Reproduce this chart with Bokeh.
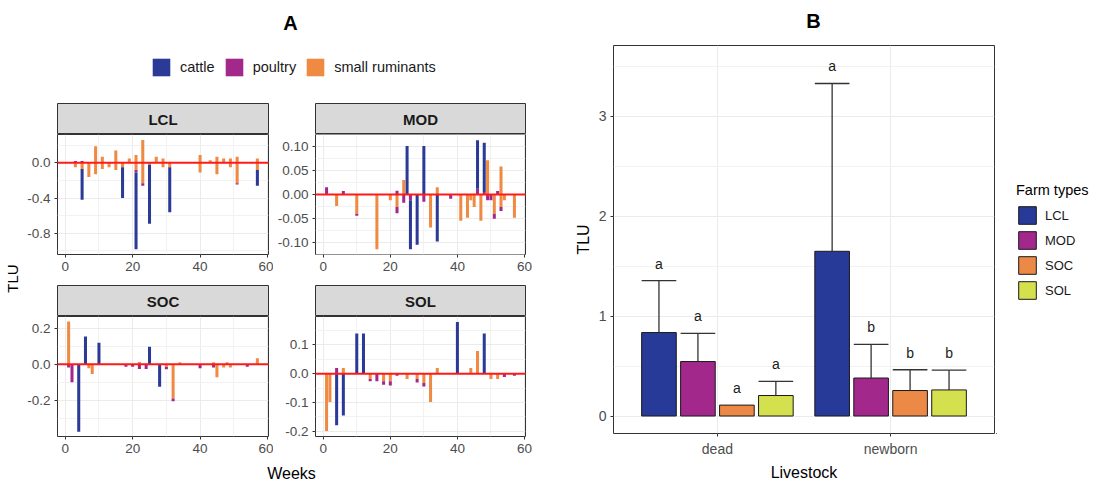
import math
from bokeh.plotting import figure
from bokeh.models import (Range1d, FixedTicker, Span, Legend, LegendItem,
                          ColumnDataSource)
from bokeh.layouts import row, column
from bokeh.embed import file_html
from bokeh.resources import INLINE
from bokeh.core.properties import value

FONT = "Liberation Sans"

# ---------------- Panel A data ----------------
CAT, POU, SR = "cattle", "poultry", "small ruminants"
species = [CAT, POU, SR]
species_colors = ["#2B3A96", "#A2288B", "#EF8A43"]

week_ticks = [0, 20, 40, 60]
week_minor = [10, 30, 50]

LCL_week = [3, 3, 5, 5, 5, 7, 9, 9, 11, 11, 13, 15, 15, 17, 17, 19,
            21, 21, 21, 21, 23, 23, 23, 25, 25, 27, 29, 29, 31, 31,
            40, 40, 43, 45, 45, 47, 49, 49, 51, 51, 51, 57, 57, 57]
LCL_species = [POU, SR, POU, SR, CAT, SR, SR, SR, SR, SR, SR, SR, SR, SR, CAT, SR,
               SR, SR, POU, CAT, SR, SR, POU, SR, CAT, SR, SR, SR, SR, CAT,
               SR, SR, SR, SR, SR, SR, SR, SR, SR, SR, POU, SR, SR, CAT]
LCL_tlu = [0.02, -0.05, 0.02, -0.07, -0.35, -0.16, 0.19, -0.13, 0.07, -0.07, -0.05, 0.14, -0.08, -0.05, -0.35, 0.05,
           0.09, -0.08, -0.03, -0.87, 0.26, -0.23, -0.03, -0.02, -0.67, 0.07, 0.05, -0.05, -0.05, -0.51,
           0.09, -0.11, 0.03, 0.07, -0.13, 0.05, 0.05, -0.05, 0.07, -0.23, -0.015, 0.05, -0.08, -0.18]

MOD_week = [1, 4, 6, 10, 10, 16, 20, 22, 22, 22, 24, 24, 25, 26, 26, 28, 30, 30, 32, 34, 34,
            38, 41, 43, 44, 45, 46, 46, 47, 48, 48, 49, 49, 50, 51, 51, 52, 53, 53, 53, 54, 57]
MOD_species = [POU, SR, POU, SR, POU, SR, SR, POU, SR, POU, SR, POU, CAT, POU, CAT, CAT, CAT, POU, SR, SR, CAT,
               POU, SR, SR, SR, SR, POU, CAT, SR, POU, CAT, SR, POU, POU, SR, POU, POU, SR, SR, POU, SR, SR]
MOD_tlu = [0.015, -0.024, 0.007, -0.040, -0.004, -0.113, -0.012, 0.008, -0.026, -0.013, 0.030, -0.017,
           0.100, -0.012, -0.101, -0.104, 0.100, -0.015, -0.068, 0.015, -0.097,
           -0.009, -0.054, -0.048, -0.012, -0.026, 0.012, 0.100, -0.054, 0.005, 0.102,
           0.071, -0.012, -0.012, -0.040, -0.010, 0.007, 0.058, -0.026, -0.008, -0.012, -0.048]

SOC_week = [1, 1, 2, 4, 6, 7, 8, 10, 18, 20, 22, 22, 24, 25, 28, 30, 30, 32, 32, 34,
            40, 44, 44, 45, 47, 48, 49, 54, 57]
SOC_species = [SR, POU, POU, CAT, CAT, SR, SR, CAT, POU, POU, SR, POU, POU, CAT, CAT, SR, POU, SR, POU, SR,
               POU, SR, POU, SR, SR, SR, SR, POU, SR]
SOC_tlu = [0.237, -0.017, -0.100, -0.374, 0.154, -0.022, -0.054, 0.120, -0.013, -0.013, 0.013, -0.026,
           -0.026, 0.098, -0.124, -0.013, -0.015, -0.189, -0.015, 0.011,
           -0.022, 0.011, -0.017, -0.072, -0.017, 0.011, -0.017, -0.013, 0.033]

SOL_week = [1, 2, 4, 4, 6, 6, 10, 12, 14, 14, 16, 18, 18, 20, 20, 22, 25, 28, 28, 30, 30,
            32, 34, 40, 44, 46, 48, 50, 52, 54, 57]
SOL_species = [SR, SR, POU, CAT, SR, CAT, CAT, CAT, SR, POU, POU, SR, POU, SR, POU, POU, SR, SR, POU, SR, POU,
               SR, SR, CAT, SR, SR, CAT, SR, SR, POU, POU]
SOL_tlu = [-0.199, -0.098, 0.020, -0.179, 0.020, -0.145, 0.140, 0.140, -0.018, -0.008, -0.026,
           -0.026, -0.012, -0.026, -0.015, -0.007, -0.018, -0.018, -0.012, -0.032, -0.012,
           -0.098, 0.020, 0.180, 0.020, 0.079, 0.140, -0.018, -0.018, -0.011, -0.007]

LCL_yticks = [-0.8, -0.4, 0.0]
LCL_ylabels = ["-0.8", "-0.4", "0.0"]
MOD_yticks = [-0.10, -0.05, 0.0, 0.05, 0.10]
MOD_ylabels = ["-0.10", "-0.05", "0.00", "0.05", "0.10"]
SOC_yticks = [-0.2, 0.0, 0.2]
SOC_ylabels = ["-0.2", "0.0", "0.2"]
SOL_yticks = [-0.2, -0.1, 0.0, 0.1]
SOL_ylabels = ["-0.2", "-0.1", "0.0", "0.1"]

# ---------------- Panel B data ----------------
livestock = ["dead", "newborn"]
farm_types = ["LCL", "MOD", "SOC", "SOL"]
farm_colors = ["#283A97", "#A3288C", "#EC8946", "#D4E04E"]
dead_mean = [0.835, 0.545, 0.109, 0.205]
dead_upper = [1.355, 0.826, 0.109, 0.347]
newborn_mean = [1.648, 0.380, 0.255, 0.261]
newborn_upper = [3.327, 0.717, 0.463, 0.459]
dead_letters = ["a", "a", "a", "a"]
newborn_letters = ["a", "b", "b", "b"]
B_yticks = [0, 1, 2, 3]
B_yminor = [0.5, 1.5, 2.5, 3.5]

GRID = "#EBEBEB"
GRID_MINOR = "#F2F2F2"
BORDER = "#333333"
TICKTXT = "#4D4D4D"


def base_fig(w, h, xr, yr, **kw):
    p = figure(width=w, height=h, x_range=xr, y_range=yr, output_backend="svg",
               toolbar_location=None, tools="", background_fill_color="white",
               border_fill_color="white", **kw)
    return p


def blank_fig(w, h):
    p = base_fig(w, h, Range1d(0, w), Range1d(0, h), x_axis_type=None, y_axis_type=None,
                 min_border_left=0, min_border_right=0, min_border_top=0, min_border_bottom=0)
    p.outline_line_color = None
    p.grid.visible = False
    return p


def text_fig(w, h, texts, xs, ys, size, style="normal", angle=0.0):
    p = blank_fig(w, h)
    p.text(x=xs, y=ys, text=texts, text_align="center", text_baseline="middle",
           text_font=value(FONT), text_font_size=size, text_font_style=style,
           text_color="#000000", angle=angle)
    return p


def style_axes(p, size):
    for ax in p.axis:
        ax.axis_line_color = None
        ax.major_tick_line_color = BORDER
        ax.major_tick_out = 3
        ax.major_tick_in = 0
        ax.minor_tick_line_color = None
        ax.major_label_text_font = FONT
        ax.major_label_text_font_size = size
        ax.major_label_text_color = TICKTXT
        ax.major_label_standoff = 3


def stack_source(weeks, sp, vals):
    order = {SR: 0, POU: 1, CAT: 2}
    idx = sorted(range(len(weeks)), key=lambda i: order[sp[i]])
    pos, neg = {}, {}
    xs, bots, tops, cols = [], [], [], []
    for i in idx:
        w, v = weeks[i], vals[i]
        acc = pos if v >= 0 else neg
        b = acc.get(w, 0.0)
        acc[w] = b + v
        xs.append(w)
        bots.append(b)
        tops.append(b + v)
        cols.append(species_colors[species.index(sp[i])])
    return ColumnDataSource(dict(x=xs, bottom=bots, top=tops, color=cols))


def strip_fig(label, left, fw, right, top):
    s = base_fig(left + fw + right, 31 + top, Range1d(0, 1), Range1d(0, 1),
                 x_axis_type=None, y_axis_type=None,
                 min_border_left=left, min_border_right=right,
                 min_border_top=top, min_border_bottom=0)
    s.grid.visible = False
    s.background_fill_color = "#D9D9D9"
    s.outline_line_color = BORDER
    s.outline_line_width = 1
    s.text(x=[0.5], y=[0.5], text=[label], text_align="center", text_baseline="middle",
           text_font=value(FONT), text_font_size="15px", text_font_style="bold",
           text_color="#1A1A1A")
    return s


def facet_fig(weeks, sp, vals, yr, yticks, ylabels, left, fw, right, bottom):
    p = base_fig(left + fw + right, 120 + bottom, Range1d(-2.3, 60.3), Range1d(*yr),
                 min_border_left=left, min_border_right=right,
                 min_border_top=0, min_border_bottom=bottom)
    p.outline_line_color = BORDER
    p.outline_line_width = 1
    step = yticks[1] - yticks[0]
    yminor = [t + step / 2 for t in [yticks[0] - step] + yticks]
    xt = FixedTicker(ticks=week_ticks, minor_ticks=week_minor)
    yt = FixedTicker(ticks=yticks, minor_ticks=yminor)
    p.xaxis.ticker = xt
    p.yaxis.ticker = yt
    p.xgrid.ticker = xt
    p.ygrid.ticker = yt
    p.yaxis.major_label_overrides = {t: l for t, l in zip(yticks, ylabels)}
    for g in (p.xgrid, p.ygrid):
        g.grid_line_color = GRID
        g.grid_line_width = 1
        g.minor_grid_line_color = GRID_MINOR
        g.minor_grid_line_width = 1
    style_axes(p, "13.5px")
    src = stack_source(weeks, sp, vals)
    p.vbar(x="x", width=0.9, bottom="bottom", top="top", fill_color="color",
           line_color=None, source=src)
    p.add_layout(Span(location=0, dimension="width", line_color="#FF1A1A", line_width=2))
    return p


# ---------------- Panel A layout ----------------
LW_L, FW_L, RW_L = 35, 211, 5
LW_R, FW_R, RW_R = 42, 210, 45

headA = blank_fig(570, 100)
headA.text(x=[290], y=[78], text=["A"], text_align="center", text_baseline="middle",
           text_font=value(FONT), text_font_size="20px", text_font_style="bold",
           text_color="#000000")
items = []
for s, c in zip(species, species_colors):
    # legend key renderer, kept outside the visible range of this header
    r = headA.vbar(x=[-1000], top=[-1000], bottom=[-1001], width=1, fill_color=c, line_color=None)
    items.append(LegendItem(label=s, renderers=[r]))
legA = Legend(items=items, orientation="horizontal", location=(150, 22),
              glyph_width=22, glyph_height=22, label_height=22, label_standoff=8,
              spacing=8, padding=0, margin=0, border_line_color=None,
              background_fill_alpha=0, label_text_font=FONT,
              label_text_font_size="14.5px", label_text_color="#1A1A1A")
headA.add_layout(legA)

s_lcl = strip_fig("LCL", LW_L, FW_L, RW_L, 3)
s_mod = strip_fig("MOD", LW_R, FW_R, RW_R, 3)
p_lcl = facet_fig(LCL_week, LCL_species, LCL_tlu, (-1.04, 0.322), LCL_yticks, LCL_ylabels,
                  LW_L, FW_L, RW_L, 31)
p_mod = facet_fig(MOD_week, MOD_species, MOD_tlu, (-0.124, 0.124), MOD_yticks, MOD_ylabels,
                  LW_R, FW_R, RW_R, 31)
s_soc = strip_fig("SOC", LW_L, FW_L, RW_L, 0)
s_sol = strip_fig("SOL", LW_R, FW_R, RW_R, 0)
p_soc = facet_fig(SOC_week, SOC_species, SOC_tlu, (-0.40, 0.265), SOC_yticks, SOC_ylabels,
                  LW_L, FW_L, RW_L, 22)
p_sol = facet_fig(SOL_week, SOL_species, SOL_tlu, (-0.218, 0.199), SOL_yticks, SOL_ylabels,
                  LW_R, FW_R, RW_R, 22)

grid = column(row(s_lcl, s_mod), row(p_lcl, p_mod), row(s_soc, s_sol), row(p_soc, p_sol))
tluA = text_fig(22, 358, ["TLU"], [12], [180], "15px", angle=math.pi / 2)
weeksA = text_fig(570, 25, ["Weeks"], [291], [10], "16px")
colA = column(headA, row(tluA, grid), weeksA)

# ---------------- Panel B ----------------
headB = text_fig(533, 40, ["B"], [243], [20], "20px", style="bold")

pB = base_fig(426, 443, Range1d(0.4, 2.6), Range1d(-0.175, 3.707),
              min_border_left=43, min_border_right=2, min_border_top=5, min_border_bottom=46)
pB.outline_line_color = BORDER
pB.outline_line_width = 1
xtB = FixedTicker(ticks=[1, 2])
ytB = FixedTicker(ticks=B_yticks, minor_ticks=B_yminor)
pB.xaxis.ticker = xtB
pB.xgrid.ticker = xtB
pB.yaxis.ticker = ytB
pB.ygrid.ticker = ytB
pB.xaxis.major_label_overrides = {i + 1: lab for i, lab in enumerate(livestock)}
for g in (pB.xgrid, pB.ygrid):
    g.grid_line_color = GRID
    g.grid_line_width = 1
pB.ygrid.minor_grid_line_color = GRID_MINOR
style_axes(pB, "14px")
pB.xaxis.major_label_standoff = 4
pB.yaxis.axis_label = "TLU"
pB.xaxis.axis_label = "Livestock"
for ax in pB.axis:
    ax.axis_label_text_font = FONT
    ax.axis_label_text_font_size = "16px"
    ax.axis_label_text_font_style = "normal"
    ax.axis_label_text_color = "#000000"
    ax.axis_label_standoff = 4

dodge = 0.225
bar_w = 0.2
for i, ft in enumerate(farm_types):
    xs = [k + 1 + (i - 1.5) * dodge for k in range(len(livestock))]
    means = [dead_mean[i], newborn_mean[i]]
    uppers = [dead_upper[i], newborn_upper[i]]
    letters = [dead_letters[i], newborn_letters[i]]
    pB.vbar(x=xs, top=means, bottom=0, width=bar_w, fill_color=farm_colors[i],
            line_color="#1A1A1A", line_width=1)
    ex = [x for x, m, u in zip(xs, means, uppers) if u > m]
    em = [m for m, u in zip(means, uppers) if u > m]
    eu = [u for m, u in zip(means, uppers) if u > m]
    if ex:
        pB.segment(x0=ex, y0=em, x1=ex, y1=eu, line_color="#333333", line_width=1.3)
        pB.segment(x0=[x - bar_w / 2 for x in ex], y0=eu, x1=[x + bar_w / 2 for x in ex], y1=eu,
                   line_color="#333333", line_width=1.3)
    pB.text(x=xs, y=[max(m, u) + 0.17 for m, u in zip(means, uppers)], text=letters,
            text_align="center", text_baseline="middle", text_font=value(FONT),
            text_font_size="14px", text_color="#1A1A1A")

# legend panel to the right of panel B
legFig = blank_fig(107, 443)
itemsB = []
for ft, c in zip(farm_types, farm_colors):
    r = legFig.vbar(x=[-1000], top=[-1000], bottom=[-1001], width=1, fill_color=c,
                    line_color="#1A1A1A", line_width=1)
    itemsB.append(LegendItem(label=ft, renderers=[r]))
legB = Legend(items=itemsB, title="Farm types", location=(20, 132),
              glyph_width=22, glyph_height=22, label_height=22, spacing=3,
              label_standoff=7, padding=0, margin=0, title_standoff=6,
              title_text_font=FONT, title_text_font_size="14.5px",
              title_text_font_style="normal", title_text_color="#000000",
              label_text_font=FONT, label_text_font_size="13px", label_text_color="#1A1A1A",
              border_line_color=None, background_fill_alpha=0)
legFig.add_layout(legB)

colB = column(headB, row(pB, legFig))
root = row(colA, colB)

open("out.html", "w").write(file_html(root, INLINE))
